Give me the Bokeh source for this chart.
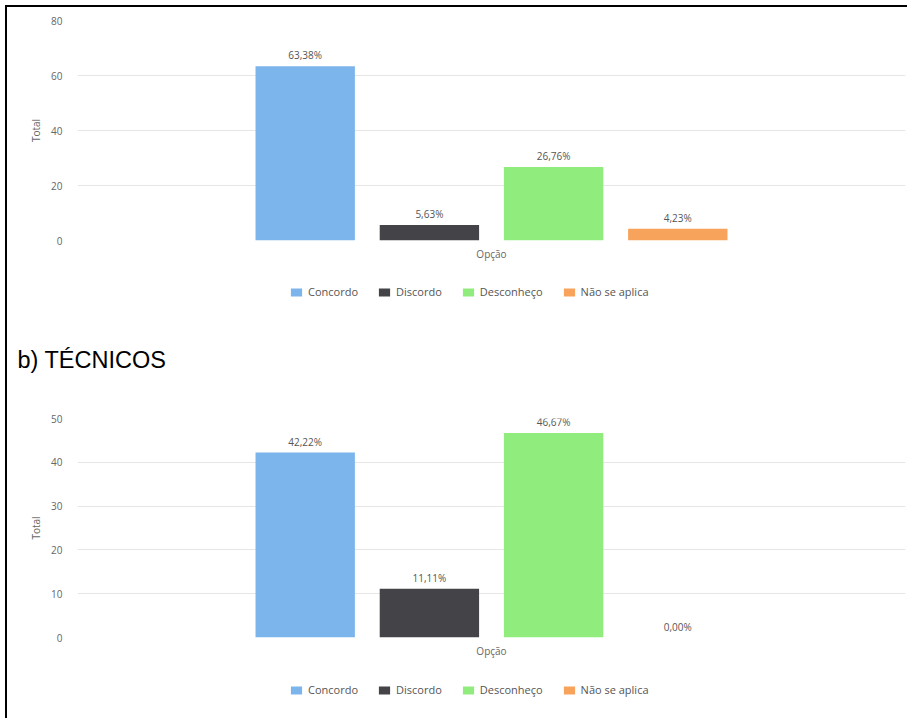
from bokeh.plotting import figure
from bokeh.models import ColumnDataSource, FixedTicker, Legend, LegendItem, Range1d, FactorRange
from bokeh.transform import dodge
from bokeh.layouts import column
from bokeh.embed import file_html
from bokeh.resources import INLINE
from bokeh.core.properties import value

categories = ["Opção"]
series = ["Concordo", "Discordo", "Desconheço", "Não se aplica"]
colors = ["#7CB5EC", "#434348", "#90ED7D", "#F7A35C"]
values_a = [63.38, 5.63, 26.76, 4.23]
values_b = [42.22, 11.11, 46.67, 0.00]
ticks_a = [0, 20, 40, 60, 80]
ticks_b = [0, 10, 20, 30, 40, 50]
y_title = "Total"
title_b = "b) TÉCNICOS"

FONT = "Open Sans"
OFFSETS = [-0.225, -0.075, 0.075, 0.225]
W = 900
NAN = float("nan")


def fmt(v):
    return ("%.2f" % v).replace(".", ",") + "%"


def make_chart(vals, ticks, top, title=None):
    p = figure(x_range=FactorRange(*categories), y_range=Range1d(ticks[0], ticks[-1]),
               width=W, height=top + 220 + 25, output_backend="svg", toolbar_location=None,
               min_border_left=70, min_border_right=2, min_border_top=top,
               min_border_bottom=25)
    p.outline_line_color = None
    p.background_fill_color = "white"
    p.border_fill_color = "white"
    p.xgrid.grid_line_color = None
    p.ygrid.grid_line_color = "#E6E6E6"
    p.yaxis.ticker = FixedTicker(ticks=ticks)
    for ax in (p.xaxis[0], p.yaxis[0]):
        ax.axis_line_color = None
        ax.major_tick_line_color = None
        ax.minor_tick_line_color = None
        ax.major_tick_out = 0
        ax.major_tick_in = 0
        ax.minor_tick_out = 0
        ax.major_label_text_font = FONT
        ax.major_label_text_font_size = "10px"
        ax.major_label_text_color = "#666666"
    p.yaxis.major_label_standoff = 15
    p.yaxis.axis_label = y_title
    p.yaxis.axis_label_text_font = FONT
    p.yaxis.axis_label_text_font_size = "10px"
    p.yaxis.axis_label_text_font_style = "normal"
    p.yaxis.axis_label_text_color = "#666666"
    p.yaxis.axis_label_standoff = 5
    p.xaxis.major_label_standoff = 6

    for i, color in enumerate(colors):
        src = ColumnDataSource(dict(x=categories, top=[vals[i]], label=[fmt(vals[i])]))
        p.vbar(x=dodge("x", OFFSETS[i], range=p.x_range), top="top", width=0.12,
               bottom=0, source=src, fill_color=color, line_color=None)
        p.text(x=dodge("x", OFFSETS[i], range=p.x_range), y="top", text="label", source=src,
               text_align="center", text_baseline="bottom", y_offset=-4,
               text_font_size="10px", text_color="#555555", text_font=value(FONT))

    if title:
        p.title.text = title
        p.title.text_font = "Liberation Sans"
        p.title.text_font_size = "23.5px"
        p.title.text_font_style = "normal"
        p.title.text_color = "black"
        p.title.align = "left"
        p.title.offset = -60
        p.title.standoff = 91
    return p


def make_legend_fig(height, legend_y):
    q = figure(width=W, height=height, output_backend="svg", toolbar_location=None,
               x_axis_location=None, y_axis_location=None, min_border=0,
               x_range=Range1d(0, 1), y_range=Range1d(0, 1))
    q.outline_line_color = None
    q.grid.visible = False
    q.background_fill_color = "white"
    q.border_fill_color = "white"
    items = []
    for name, color in zip(series, colors):
        r = q.vbar(x=[NAN], top=[NAN], width=0.1, fill_color=color, line_color=None)
        items.append(LegendItem(label=name, renderers=[r]))
    legend = Legend(items=items, orientation="horizontal", location=(212, legend_y))
    legend.glyph_width = 14
    legend.glyph_height = 10
    legend.label_height = 14
    legend.label_standoff = 5
    legend.spacing = 19
    legend.padding = 0
    legend.margin = 0
    legend.border_line_color = None
    legend.background_fill_alpha = 0
    legend.label_text_font = FONT
    legend.label_text_font_size = "11px"
    legend.label_text_color = "#555555"
    q.add_layout(legend, "center")
    return q


p1 = make_chart(values_a, ticks_a, 13)
l1 = make_legend_fig(34, 0)
p2 = make_chart(values_b, ticks_b, 118, title=title_b)
l2 = make_legend_fig(56, 21)

layout = column(p1, l1, p2, l2, spacing=0, margin=(5, 0, 0, 5),
                styles={"border-left": "2px solid black", "border-top": "2px solid black"})

open("out.html", "w").write(file_html(layout, INLINE))
